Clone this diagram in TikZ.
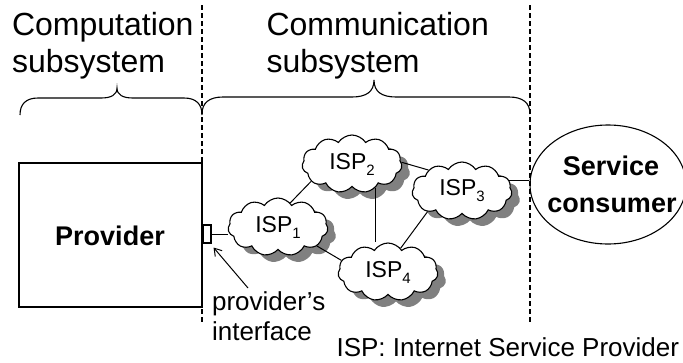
\documentclass[tikz,border=0pt]{standalone}
\usepackage{fontspec}
\setmainfont{Liberation Sans}
\usetikzlibrary{shapes.symbols,shapes.geometric,shadows,arrows.meta}

\tikzset{
  heading/.style={anchor=base west, inner sep=0pt, font=\fontsize{32}{37}\selectfont},
  bigbold/.style={inner sep=0pt, font=\fontsize{27}{37}\selectfont\bfseries},
  plain/.style={anchor=base west, inner sep=0pt, font=\fontsize{26}{30}\selectfont},
  isp/.style={cloud, cloud puffs=11, cloud puff arc=115, aspect=1.75, draw, fill=white,
    minimum width=100pt, minimum height=58pt, inner sep=0pt,
    font=\fontsize{23}{23}\selectfont,
    drop shadow={shadow xshift=8pt, shadow yshift=-7pt, fill=black!50, opacity=1}},
  link/.style={line width=1pt},
  divider/.style={line width=1.1pt, dash pattern=on 5pt off 3pt},
  brace/.style={line width=1.1pt},
}
\newcommand\ispname[1]{ISP\raisebox{-6pt}{\fontsize{15}{15}\selectfont #1}}

\begin{document}
\begin{tikzpicture}[x=1pt, y=-1pt, line width=1.1pt]
  \useasboundingbox (0,0) rectangle (683,362);

  % subsystem headings
  \node[heading] (comp1) at (11.5,35) {Computation};
  \node[heading] (comp2) at (11.5,72) {subsystem};
  \node[heading] (comm1) at (266,35) {Communication};
  \node[heading] (comm2) at (266,72) {subsystem};

  % braces under the headings
  \draw[brace] (20,115) .. controls (20,104) and (26,98) .. (38,98) -- (101,98)
    .. controls (111,98) and (117,95) .. (117,88)
    .. controls (117,95) and (123,98) .. (133,98) -- (184,98)
    .. controls (196,98) and (202,104) .. (202,115);
  \draw[brace] (202,114) .. controls (202,103) and (209,97) .. (223,97) -- (352,97)
    .. controls (366,97) and (374,92) .. (374,80)
    .. controls (374,92) and (382,97) .. (396,97) -- (509,97)
    .. controls (523,97) and (530,103) .. (530,114);

  % provider and its interface
  \node[draw, minimum width=183pt, minimum height=144pt, inner sep=0pt] (prov) at (110.5,235) {};
  \node[bigbold, anchor=base] (provtxt) at (110,245) {Provider};
  \node[draw, fill=white, minimum width=8pt, minimum height=18pt, inner sep=0pt] (iface) at (207,234) {};

  % subsystem borders
  \draw[divider] (202,5) -- (202,323);
  \draw[divider] (530,5) -- (530,323);

  % service consumer
  \node[draw, ellipse, minimum width=156pt, minimum height=119pt, inner sep=0pt] (cons) at (608,184.5) {};
  \node[bigbold, anchor=base] (cons1) at (611,175) {Service};
  \node[bigbold, anchor=base] (cons2) at (612,212) {consumer};

  % provider networks
  \node[isp] (isp2) at (352,164) {\ispname{2}};
  \node[isp] (isp3) at (462,191) {\ispname{3}};
  \node[isp] (isp1) at (278,227) {\ispname{1}};
  \node[isp] (isp4) at (388,272) {\ispname{4}};

  % links
  \draw[link] (iface.east) -- (iface.east -| isp1.west);
  \draw[link] (isp1.63) -- (isp2.203);
  \draw[link] (isp1.-26) -- (isp4.166);
  \draw[link] (isp2.2) -- (isp3.148);
  \draw[link] (isp2.-45) -- (isp2.-45 |- isp4.north);
  \draw[link] (isp3.211) -- (isp4.62);
  \draw[link] (isp3.13) -- (isp3.13 -| cons.west);

  % interface label
  \node[plain] (pv1) at (211.5,310) {provider’s};
  \node[plain] (pv2) at (211.5,340) {interface};
  \coordinate (ptail) at (248,288);
  \draw[link, -{Straight Barb[length=7pt,width=9pt]}] (ptail) -- ([xshift=2pt,yshift=-4pt]iface.south east);

  % legend
  \node[plain] (legend) at (336,356) {ISP: Internet Service Provider};
\end{tikzpicture}
\end{document}
